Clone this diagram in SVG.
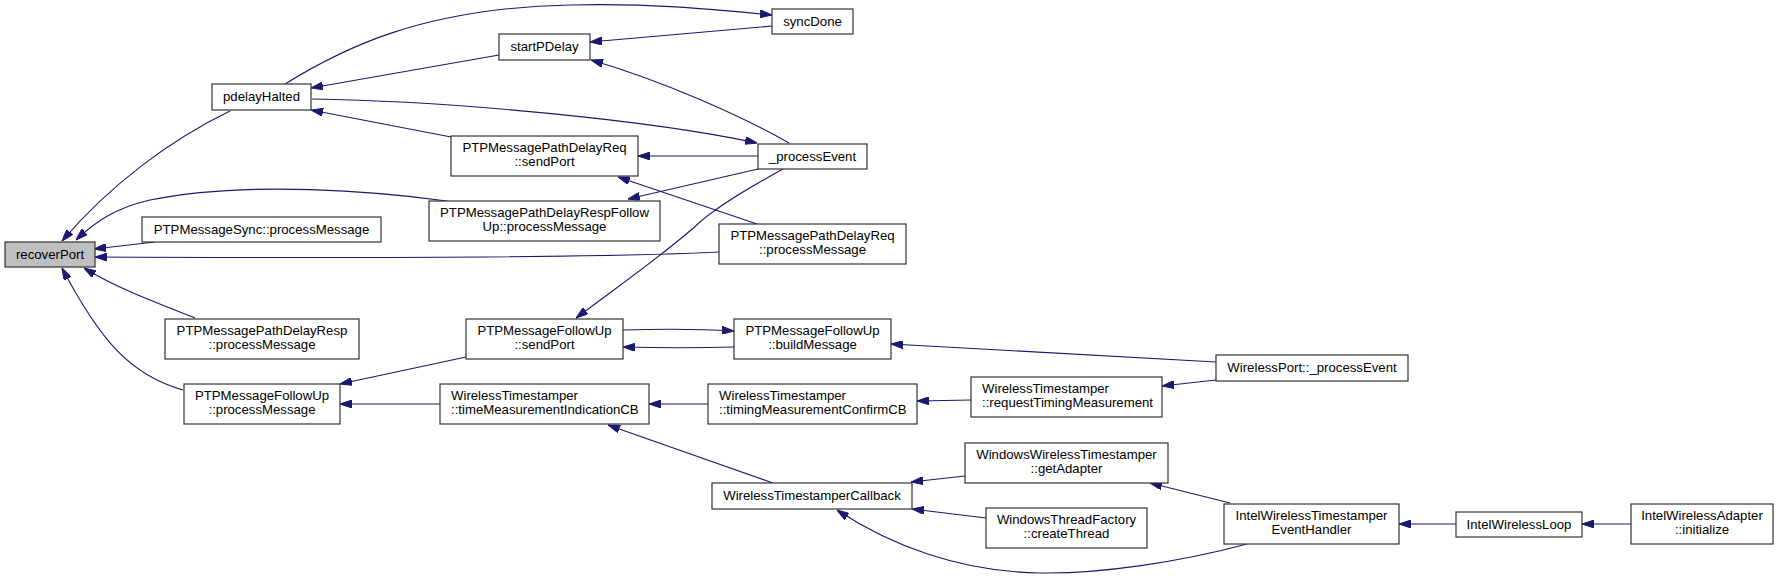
<svg xmlns="http://www.w3.org/2000/svg" width="1779" height="578" viewBox="0 0 1779 578">
<defs>
<marker id="ah" viewBox="0 0 12 8" refX="12" refY="4" markerWidth="12" markerHeight="8" markerUnits="userSpaceOnUse" orient="auto">
<path d="M0,0 L12,4 L0,8 z" fill="#191970" stroke="#191970" stroke-width="1"/>
</marker>
</defs>
<style>
.n rect{fill:#ffffff;stroke:#333333;stroke-width:1.2}
.n.hl rect{fill:#bfbfbf}
.n text{font-family:"Liberation Sans",Arial,Helvetica,sans-serif;font-size:13.2px;fill:#000000;text-anchor:middle}
.n text.l{text-anchor:start}
.e path{fill:none;stroke:#191970;stroke-width:1.1;marker-end:url(#ah)}
</style>
<rect x="0" y="0" width="1779" height="578" fill="#ffffff"/>
<g id="edges" class="e">
<path d="M230,111 C170,140 110,185 62,241"/>
<path d="M447,201 C380,192 250,180 150,200 C115,208 95,222 76,240"/>
<path d="M155,242 L94,249"/>
<path d="M719,252 C600,258 300,258 95,257"/>
<path d="M195,318 C165,306 120,290 84,268"/>
<path d="M183,390 C130,375 100,340 62,268"/>
<path d="M285,84 C340,50 420,8 570,5 C650,3 710,9 772,15"/>
<path d="M499,55 L311,88"/>
<path d="M772,26 L590,42"/>
<path d="M789,143 C740,115 660,80 591,60"/>
<path d="M312,99 C450,101 650,120 757,143"/>
<path d="M451,137 L311,110"/>
<path d="M758,156 L638,156"/>
<path d="M758,169 L628,199"/>
<path d="M757,224 L618,177"/>
<path d="M783,169 C745,190 720,205 700,222 C670,250 620,285 576,318"/>
<path d="M466,357 L340,384"/>
<path d="M440,404 L340,404"/>
<path d="M623,330 C660,329 700,329 734,331"/>
<path d="M734,347 C700,348 660,348 623,347"/>
<path d="M1216,362 L891,344"/>
<path d="M708,404 L649,404"/>
<path d="M773,483 L608,425"/>
<path d="M971,400 L917,401"/>
<path d="M1216,380 L1162,386"/>
<path d="M965,476 L911,482"/>
<path d="M986,518 L912,509"/>
<path d="M1230,503 L1150,483"/>
<path d="M1247,544 C1180,562 1100,574 1040,573 C960,572 890,545 837,510"/>
<path d="M1456,524 L1399,524"/>
<path d="M1631,524 L1582,524"/>
</g>
<g id="recoverPort" class="n hl"><rect x="5" y="242" width="90" height="25"/><text x="50" y="259">recoverPort</text></g>
<g id="pdelayHalted" class="n"><rect x="212" y="84" width="99" height="26"/><text x="261.5" y="101">pdelayHalted</text></g>
<g id="syncProcessMessage" class="n"><rect x="142" y="217" width="239" height="25"/><text x="261.5" y="234">PTPMessageSync::processMessage</text></g>
<g id="pathDelayRespProcessMessage" class="n"><rect x="165" y="319" width="194" height="40"/><text x="262" y="335">PTPMessagePathDelayResp</text><text x="262" y="349">::processMessage</text></g>
<g id="followUpProcessMessage" class="n"><rect x="184" y="384" width="156" height="40"/><text x="262" y="400">PTPMessageFollowUp</text><text x="262" y="414">::processMessage</text></g>
<g id="syncDone" class="n"><rect x="772" y="9" width="81" height="25"/><text x="812.5" y="26">syncDone</text></g>
<g id="startPDelay" class="n"><rect x="499" y="34" width="91" height="26"/><text x="544.5" y="51">startPDelay</text></g>
<g id="pathDelayReqSendPort" class="n"><rect x="451" y="136" width="187" height="40"/><text x="544.5" y="152">PTPMessagePathDelayReq</text><text x="544.5" y="166">::sendPort</text></g>
<g id="processEvent" class="n"><rect x="758" y="144" width="109" height="25"/><text x="812.5" y="161">_processEvent</text></g>
<g id="pathDelayRespFollowUpProcessMessage" class="n"><rect x="429" y="201" width="231" height="40"/><text x="544.5" y="217">PTPMessagePathDelayRespFollow</text><text x="544.5" y="231">Up::processMessage</text></g>
<g id="pathDelayReqProcessMessage" class="n"><rect x="719" y="224" width="187" height="40"/><text x="812.5" y="240">PTPMessagePathDelayReq</text><text x="812.5" y="254">::processMessage</text></g>
<g id="followUpSendPort" class="n"><rect x="466" y="319" width="157" height="40"/><text x="544.5" y="335">PTPMessageFollowUp</text><text x="544.5" y="349">::sendPort</text></g>
<g id="followUpBuildMessage" class="n"><rect x="734" y="319" width="157" height="40"/><text x="812.5" y="335">PTPMessageFollowUp</text><text x="812.5" y="349">::buildMessage</text></g>
<g id="timeMeasurementIndicationCB" class="n"><rect x="440" y="384" width="209" height="40"/><text class="l" x="451" y="400">WirelessTimestamper</text><text class="l" x="451" y="414">::timeMeasurementIndicationCB</text></g>
<g id="timingMeasurementConfirmCB" class="n"><rect x="708" y="384" width="209" height="40"/><text class="l" x="719" y="400">WirelessTimestamper</text><text class="l" x="719" y="414">::timingMeasurementConfirmCB</text></g>
<g id="wirelessTimestamperCallback" class="n"><rect x="712" y="483" width="200" height="26"/><text x="812" y="500">WirelessTimestamperCallback</text></g>
<g id="wirelessPortProcessEvent" class="n"><rect x="1216" y="355" width="192" height="26"/><text x="1312" y="372">WirelessPort::_processEvent</text></g>
<g id="requestTimingMeasurement" class="n"><rect x="971" y="377" width="191" height="40"/><text class="l" x="982" y="393">WirelessTimestamper</text><text class="l" x="982" y="407">::requestTimingMeasurement</text></g>
<g id="getAdapter" class="n"><rect x="965" y="443" width="203" height="40"/><text x="1066.5" y="459">WindowsWirelessTimestamper</text><text x="1066.5" y="473">::getAdapter</text></g>
<g id="createThread" class="n"><rect x="986" y="508" width="161" height="40"/><text x="1066.5" y="524">WindowsThreadFactory</text><text x="1066.5" y="538">::createThread</text></g>
<g id="eventHandler" class="n"><rect x="1224" y="504" width="175" height="40"/><text x="1311.5" y="520">IntelWirelessTimestamper</text><text x="1311.5" y="534">EventHandler</text></g>
<g id="intelWirelessLoop" class="n"><rect x="1456" y="512" width="126" height="25"/><text x="1519" y="529">IntelWirelessLoop</text></g>
<g id="intelWirelessAdapterInitialize" class="n"><rect x="1631" y="504" width="142" height="40"/><text x="1702" y="520">IntelWirelessAdapter</text><text x="1702" y="534">::initialize</text></g>
</svg>
